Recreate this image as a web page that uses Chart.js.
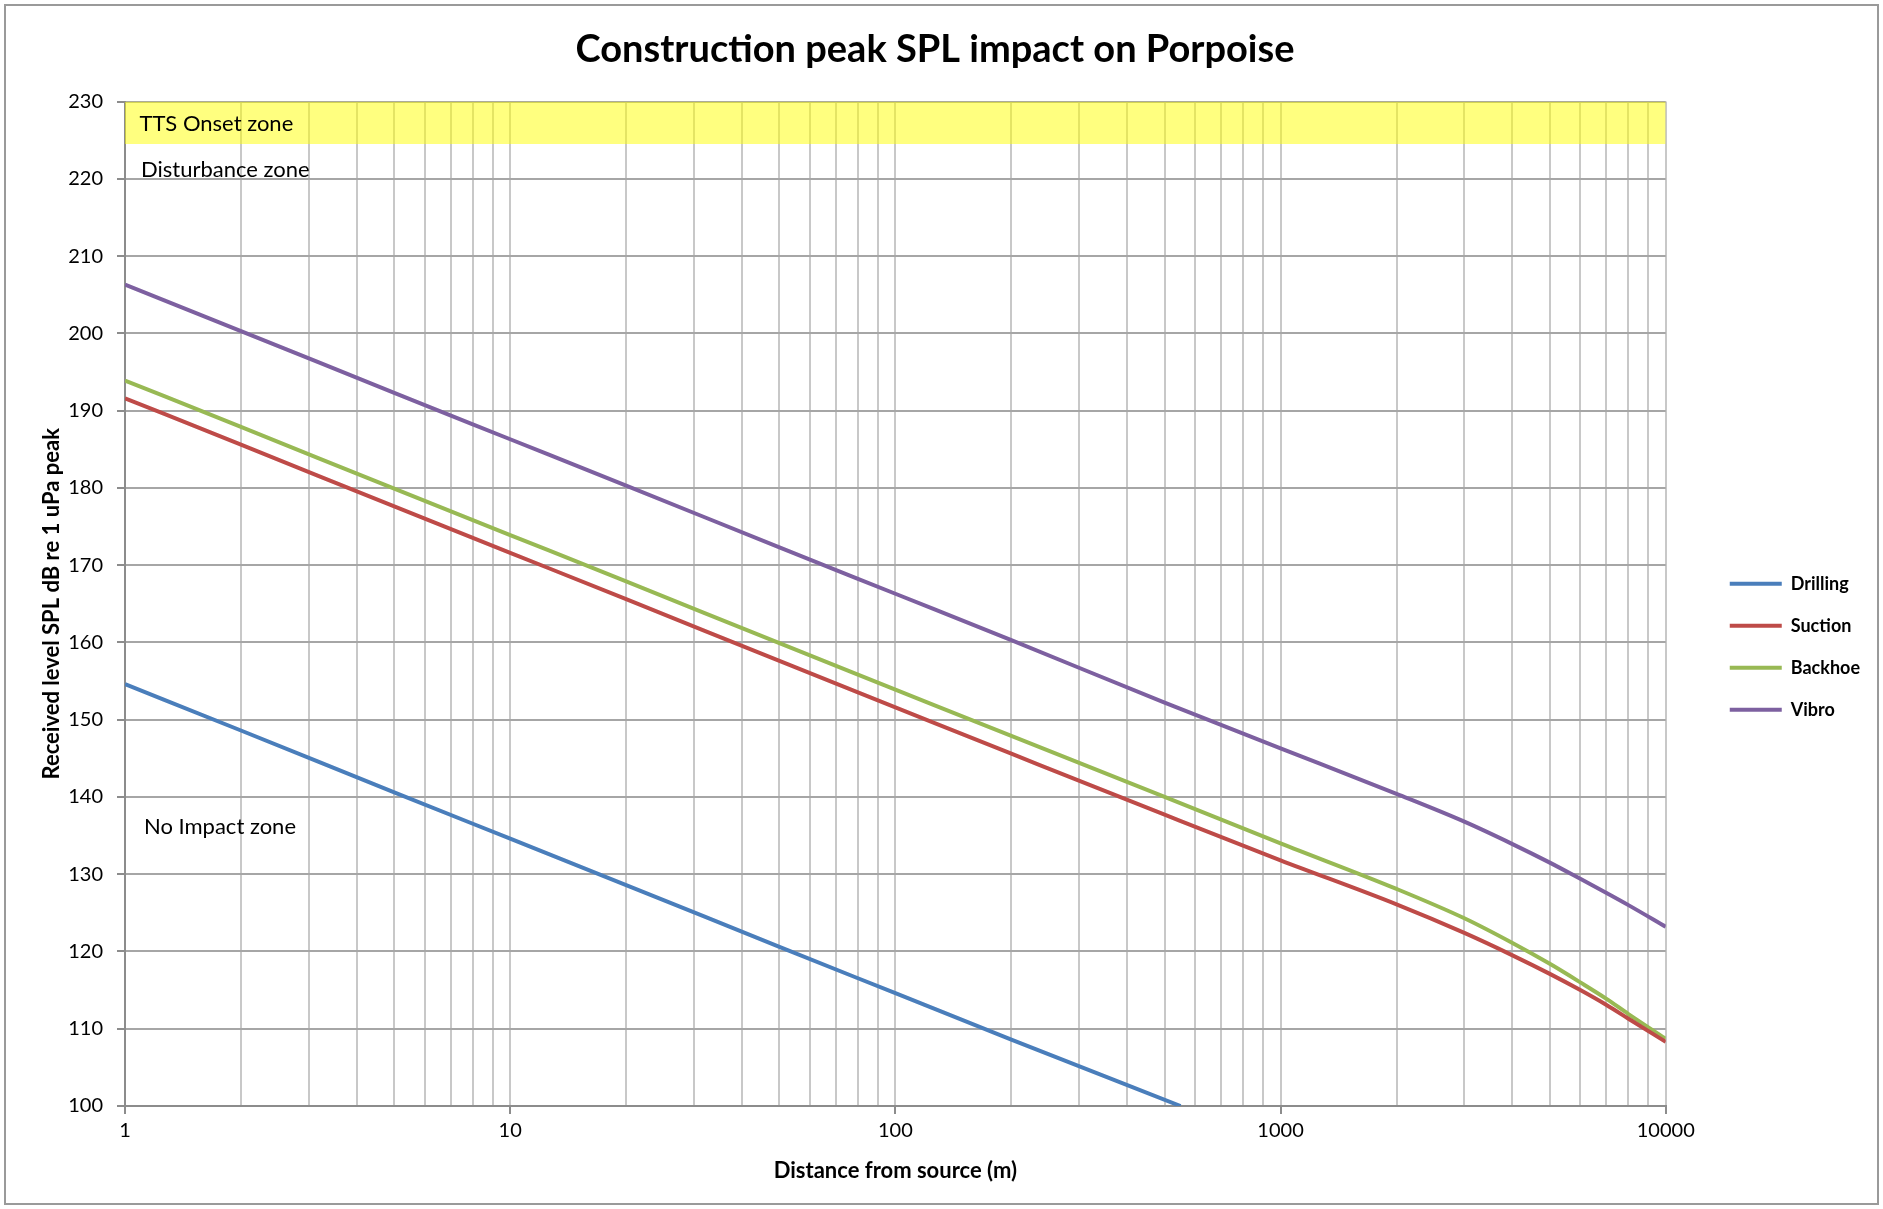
<!DOCTYPE html>
<html>
<head>
<meta charset="utf-8">
<script src="https://cdn.jsdelivr.net/npm/chart.js@4.4.1/dist/chart.umd.min.js"></script>
<style>
  html, body { margin: 0; padding: 0; background: #fff; }
  #wrap { position: relative; width: 1883px; height: 1209px; }
</style>
</head>
<body>
<div id="wrap"><canvas id="spl_plot"></canvas></div>
<script>
// distance from source (m) and received peak SPL (dB re 1 uPa)
const drillingX = [1, 2, 5, 10, 20, 50, 100, 200, 550];
const drillingY = [154.6, 148.6, 140.6, 134.6, 128.6, 120.6, 114.6, 108.6, 100.0];

const rangeX = [1, 2, 5, 10, 20, 50, 100, 200, 500, 1000, 2000, 3000, 4000, 5000, 6000, 7000, 8000, 10000];
const suctionY = [191.6, 185.6, 177.6, 171.6, 165.6, 157.6, 151.6, 145.6, 137.7, 131.8, 126.1, 122.4, 119.5, 117.1, 115.0, 113.1, 111.3, 108.3];
const backhoeY = [193.9, 187.9, 179.9, 173.9, 167.9, 159.9, 153.9, 147.9, 140.0, 134.0, 128.1, 124.3, 121.1, 118.4, 116.0, 113.9, 111.9, 108.7];
const vibroY   = [206.3, 200.3, 192.3, 186.3, 180.3, 172.3, 166.3, 160.3, 152.2, 146.3, 140.4, 136.8, 133.9, 131.5, 129.4, 127.6, 126.0, 123.2];

// TTS onset band (bottom edge, filled up to the axis top)
const ttsX = [1, 10000];
const ttsY = [224.5, 224.5];

// zone labels
const zoneLabels = [
    {text: 'TTS Onset zone', x: 1.09, y: 227.1},
    {text: 'Disturbance zone', x: 1.10, y: 221.2},
    {text: 'No Impact zone', x: 1.12, y: 136.1}
];

// x gridlines: every 1..9 step per decade, labels only on decades
const xDecades = [1, 10, 100, 1000, 10000];
const xSteps = [1, 2, 3, 4, 5, 6, 7, 8, 9];
const xGridValues = [];
xDecades.forEach(d => {
    if (d === 10000) { xGridValues.push(d); return; }
    xSteps.forEach(s => xGridValues.push(s * d));
});

const toPoints = (xs, ys) => xs.map((x, i) => ({x: x, y: ys[i]}));

const FONT = 'Lato, "Open Sans", sans-serif';

// write the zone names inside the plot
const zoneText = {
    id: 'zoneText',
    afterDatasetsDraw(chart) {
        const {ctx, scales: {x, y}} = chart;
        ctx.save();
        ctx.font = '22px ' + FONT;
        ctx.fillStyle = '#000';
        ctx.textBaseline = 'middle';
        ctx.textAlign = 'left';
        zoneLabels.forEach(z => {
            ctx.fillText(z.text, x.getPixelForValue(z.x), y.getPixelForValue(z.y));
        });
        ctx.restore();
    }
};

// grey frame around the whole chart
const frame = {
    id: 'frame',
    afterDraw(chart) {
        const ctx = chart.ctx;
        ctx.save();
        ctx.strokeStyle = '#9a9a9a';
        ctx.lineWidth = 2;
        ctx.strokeRect(5, 5, chart.width - 10, chart.height - 10);
        ctx.restore();
    }
};

const splChart = new Chart(document.getElementById('spl_plot').getContext('2d'), {
    type: 'line',
    data: {
        datasets: [{
            label: 'Drilling',
            data: toPoints(drillingX, drillingY),
            borderColor: '#4a7ebb',
            backgroundColor: '#4a7ebb',
            borderWidth: 4,
            pointRadius: 0,
            cubicInterpolationMode: 'monotone',
            fill: false
        }, {
            label: 'Suction',
            data: toPoints(rangeX, suctionY),
            borderColor: '#be4b48',
            backgroundColor: '#be4b48',
            borderWidth: 4,
            pointRadius: 0,
            cubicInterpolationMode: 'monotone',
            fill: false
        }, {
            label: 'Backhoe',
            data: toPoints(rangeX, backhoeY),
            borderColor: '#98b954',
            backgroundColor: '#98b954',
            borderWidth: 4,
            pointRadius: 0,
            cubicInterpolationMode: 'monotone',
            fill: false
        }, {
            label: 'Vibro',
            data: toPoints(rangeX, vibroY),
            borderColor: '#7d60a0',
            backgroundColor: '#7d60a0',
            borderWidth: 4,
            pointRadius: 0,
            cubicInterpolationMode: 'monotone',
            fill: false
        }, {
            label: 'band',
            data: toPoints(ttsX, ttsY),
            borderWidth: 0,
            borderColor: 'rgba(0,0,0,0)',
            backgroundColor: 'rgba(255, 255, 0, 0.5)',
            pointRadius: 0,
            fill: 'end',
            order: 10
        }]
    },
    options: {
        responsive: true,
        maintainAspectRatio: false,
        animation: false,
        layout: {
            padding: {left: 0, right: 13, top: 0, bottom: 0}
        },
        plugins: {
            title: {
                display: true,
                text: 'Construction peak SPL impact on Porpoise',
                font: {family: FONT, size: 38, weight: 'bold'},
                color: '#000',
                padding: {top: 27, bottom: 29}
            },
            legend: {
                position: 'right',
                title: {
                    // empty title only pushes the entries down a bit
                    display: true,
                    text: '',
                    padding: {top: 70, bottom: 0}
                },
                labels: {
                    usePointStyle: true,
                    pointStyle: 'line',
                    pointStyleWidth: 52,
                    padding: 24,
                    color: '#000',
                    font: {family: FONT, size: 18, weight: 'bold'},
                    filter: item => item.text !== 'band'
                }
            },
            tooltip: {enabled: false}
        },
        scales: {
            x: {
                type: 'logarithmic',
                min: 1,
                max: 10000,
                afterBuildTicks: axis => {
                    axis.ticks = xGridValues.map(v => ({value: v}));
                },
                afterFit: axis => { axis.height = 103; },
                ticks: {
                    autoSkip: false,
                    maxRotation: 0,
                    minRotation: 0,
                    padding: 5,
                    color: '#000',
                    font: {family: FONT, size: 20},
                    callback: value => xDecades.includes(value) ? String(value) : ''
                },
                grid: {
                    color: '#c8c8c8',
                    lineWidth: 2,
                    tickLength: 8,
                    tickColor: ctx => (ctx.tick && xDecades.includes(ctx.tick.value)) ? '#8c8c8c' : 'rgba(0,0,0,0)'
                },
                border: {color: '#8c8c8c', width: 2},
                title: {
                    display: true,
                    text: 'Distance from source (m)',
                    color: '#000',
                    font: {family: FONT, size: 22, weight: 'bold'},
                    padding: {top: 10, bottom: 25}
                }
            },
            y: {
                type: 'linear',
                min: 100,
                max: 230,
                afterFit: axis => { axis.width = 125; },
                ticks: {
                    stepSize: 10,
                    padding: 14,
                    color: '#000',
                    font: {family: FONT, size: 20}
                },
                grid: {
                    color: '#a6a6a6',
                    lineWidth: 2,
                    tickLength: 8,
                    tickColor: '#8c8c8c'
                },
                border: {color: '#8c8c8c', width: 2},
                title: {
                    display: true,
                    text: 'Received level SPL dB re 1 uPa peak',
                    color: '#000',
                    font: {family: FONT, size: 22, weight: 'bold'},
                    padding: {top: 39, bottom: 0}
                }
            },
            // empty axis that keeps a gap between the plot and the legend
            gap: {
                type: 'linear',
                position: 'right',
                display: true,
                grid: {display: false},
                ticks: {display: false},
                border: {display: false},
                afterFit: axis => { axis.width = 40; }
            }
        }
    },
    plugins: [zoneText, frame]
});
</script>
</body>
</html>
